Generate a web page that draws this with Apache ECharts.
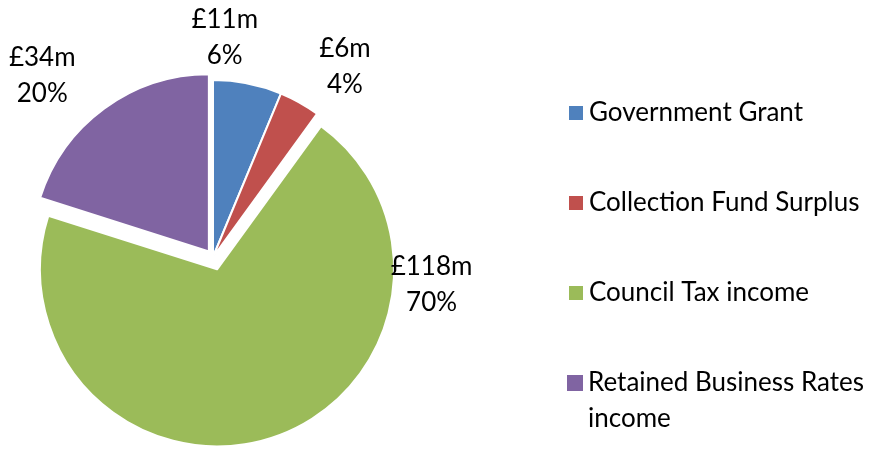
<!DOCTYPE html>
<html><head><meta charset="utf-8">
<script src="https://cdn.jsdelivr.net/npm/echarts@6/dist/echarts.min.js"></script>
<style>html,body{margin:0;padding:0;background:#fff}#c{width:872px;height:453px}</style>
</head><body><div id="c"></div>
<script>
// ---- data ----
const categories = ['Government Grant', 'Collection Fund Surplus', 'Council Tax income', 'Retained Business Rates income'];
const legendLabels = ['Government Grant', 'Collection Fund Surplus', 'Council Tax income', '\nRetained Business Rates\nincome'];
const valuesMillions = [10.6, 6.3, 118.2, 34.0];

// ---- styling ----
const colors = ['#4F81BD', '#C0504D', '#9BBB59', '#8064A2'];
const CENTER = [213, 257];
const RADIUS = 177;
const explode = [0, 0, 13, 7];
const labelLineLen = [[46.5, -82], [41.5, -24.9], [-160.7, 159.4], [40.5, -11.8]];
const legendTops = [95, 185, 275, 329];
const FONT = 'Lato';

function buildSeries(visible, offset) {
  return {
    type: 'pie',
    center: CENTER,
    radius: RADIUS,
    startAngle: 90,
    clockwise: true,
    selectedMode: 'multiple',
    selectedOffset: offset,
    avoidLabelOverlap: false,
    silent: true,
    animation: false,
    label: {
      show: true,
      position: 'outside',
      width: 90,
      overflow: 'none',
      fontFamily: FONT,
      fontSize: 26,
      color: '#000',
      formatter: p => '{a|£' + Math.round(p.value) + 'm}\n{a|' + Math.round(p.percent) + '%}',
      rich: { a: { align: 'center', fontFamily: FONT, fontSize: 26, lineHeight: 36.5, color: '#000' } }
    },
    labelLine: { show: false },
    data: categories.map((name, i) => {
      const vis = visible.includes(i);
      return {
        name,
        value: valuesMillions[i],
        selected: vis && explode[i] > 0,
        itemStyle: vis ? { color: colors[i], borderColor: '#fff', borderWidth: 2 } : { color: 'rgba(0,0,0,0)', borderWidth: 0 },
        label: { show: vis },
        labelLine: { show: false, length: labelLineLen[i][0], length2: labelLineLen[i][1] }
      };
    })
  };
}

const chart = echarts.init(document.getElementById('c'), null, { renderer: 'canvas' });
chart.setOption({
  animation: false,
  backgroundColor: '#fff',
  legend: categories.map((name, i) => ({
    left: 567,
    top: legendTops[i],
    orient: 'vertical',
    padding: 0,
    itemWidth: 16,
    itemHeight: 16,
    icon: 'rect',
    selectedMode: false,
    formatter: () => legendLabels[i],
    textStyle: { fontFamily: FONT, fontSize: 26, color: '#000', lineHeight: 36 },
    data: [{ name, itemStyle: { color: colors[i] } }]
  })),
  series: [buildSeries([0, 1, 2], 13), buildSeries([3], 7)]
});
</script>
</body></html>
